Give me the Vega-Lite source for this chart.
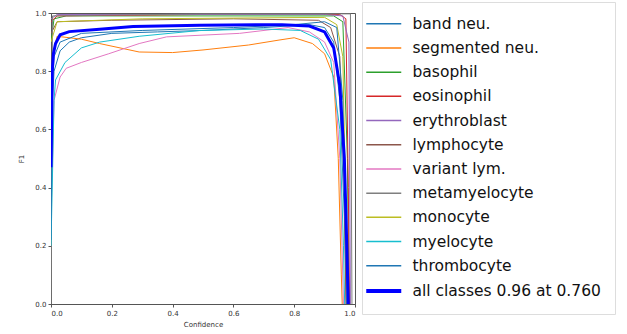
{
  "$schema": "https://vega.github.io/schema/vega-lite/v6.json",
  "autosize": "none",
  "width": 304,
  "height": 291,
  "padding": {"left": 51, "top": 13, "right": 272, "bottom": 30},
  "background": "white",
  "config": {
    "font": "DejaVu Sans",
    "view": {"stroke": "#555555", "strokeWidth": 1},
    "axis": {"grid": false, "domainColor": "#555555", "tickColor": "#555555", "labelColor": "#333333", "titleColor": "#333333", "labelFontSize": 7, "titleFontSize": 7, "titleFontWeight": "normal", "tickSize": 3, "labelPadding": 2}
  },
  "data": {"values": [
    {"s":"band neu.","c":0,"f":0.3},{"s":"band neu.","c":0.005,"f":0.7},{"s":"band neu.","c":0.01,"f":0.8},{"s":"band neu.","c":0.03,"f":0.87},{"s":"band neu.","c":0.06,"f":0.9},{"s":"band neu.","c":0.1,"f":0.915},{"s":"band neu.","c":0.2,"f":0.93},{"s":"band neu.","c":0.35,"f":0.935},{"s":"band neu.","c":0.5,"f":0.94},{"s":"band neu.","c":0.7,"f":0.95},{"s":"band neu.","c":0.85,"f":0.96},{"s":"band neu.","c":0.9,"f":0.95},{"s":"band neu.","c":0.93,"f":0.9},{"s":"band neu.","c":0.95,"f":0.7},{"s":"band neu.","c":0.965,"f":0.3},{"s":"band neu.","c":0.972,"f":0},
    {"s":"segmented neu.","c":0,"f":0.4},{"s":"segmented neu.","c":0.005,"f":0.85},{"s":"segmented neu.","c":0.02,"f":0.92},{"s":"segmented neu.","c":0.1,"f":0.91},{"s":"segmented neu.","c":0.16,"f":0.895},{"s":"segmented neu.","c":0.29,"f":0.866},{"s":"segmented neu.","c":0.4,"f":0.864},{"s":"segmented neu.","c":0.5,"f":0.873},{"s":"segmented neu.","c":0.65,"f":0.89},{"s":"segmented neu.","c":0.75,"f":0.907},{"s":"segmented neu.","c":0.8,"f":0.915},{"s":"segmented neu.","c":0.86,"f":0.895},{"s":"segmented neu.","c":0.9,"f":0.86},{"s":"segmented neu.","c":0.93,"f":0.78},{"s":"segmented neu.","c":0.945,"f":0.5},{"s":"segmented neu.","c":0.955,"f":0.1},{"s":"segmented neu.","c":0.958,"f":0},
    {"s":"basophil","c":0,"f":0.9},{"s":"basophil","c":0.01,"f":0.98},{"s":"basophil","c":0.05,"f":0.99},{"s":"basophil","c":0.5,"f":0.99},{"s":"basophil","c":0.93,"f":0.99},{"s":"basophil","c":0.96,"f":0.97},{"s":"basophil","c":0.975,"f":0.5},{"s":"basophil","c":0.98,"f":0},
    {"s":"eosinophil","c":0,"f":0.97},{"s":"eosinophil","c":0.02,"f":0.99},{"s":"eosinophil","c":0.5,"f":0.995},{"s":"eosinophil","c":0.95,"f":0.995},{"s":"eosinophil","c":0.97,"f":0.98},{"s":"eosinophil","c":0.978,"f":0.4},{"s":"eosinophil","c":0.982,"f":0},
    {"s":"erythroblast","c":0,"f":0.98},{"s":"erythroblast","c":0.02,"f":0.995},{"s":"erythroblast","c":0.9,"f":0.995},{"s":"erythroblast","c":0.96,"f":0.99},{"s":"erythroblast","c":0.98,"f":0.9},{"s":"erythroblast","c":0.985,"f":0},
    {"s":"lymphocyte","c":0,"f":0.93},{"s":"lymphocyte","c":0.02,"f":0.97},{"s":"lymphocyte","c":0.2,"f":0.975},{"s":"lymphocyte","c":0.6,"f":0.98},{"s":"lymphocyte","c":0.88,"f":0.975},{"s":"lymphocyte","c":0.92,"f":0.95},{"s":"lymphocyte","c":0.95,"f":0.85},{"s":"lymphocyte","c":0.965,"f":0.4},{"s":"lymphocyte","c":0.97,"f":0},
    {"s":"variant lym.","c":0,"f":0.3},{"s":"variant lym.","c":0.01,"f":0.7},{"s":"variant lym.","c":0.03,"f":0.78},{"s":"variant lym.","c":0.05,"f":0.81},{"s":"variant lym.","c":0.1,"f":0.83},{"s":"variant lym.","c":0.19,"f":0.86},{"s":"variant lym.","c":0.29,"f":0.895},{"s":"variant lym.","c":0.38,"f":0.918},{"s":"variant lym.","c":0.5,"f":0.924},{"s":"variant lym.","c":0.62,"f":0.93},{"s":"variant lym.","c":0.78,"f":0.95},{"s":"variant lym.","c":0.85,"f":0.935},{"s":"variant lym.","c":0.9,"f":0.9},{"s":"variant lym.","c":0.93,"f":0.83},{"s":"variant lym.","c":0.95,"f":0.5},{"s":"variant lym.","c":0.962,"f":0},
    {"s":"metamyelocyte","c":0,"f":0},{"s":"metamyelocyte","c":0.005,"f":0.99},{"s":"metamyelocyte","c":0.5,"f":0.997},{"s":"metamyelocyte","c":0.985,"f":0.997},{"s":"metamyelocyte","c":0.99,"f":0},
    {"s":"monocyte","c":0,"f":0.9},{"s":"monocyte","c":0.02,"f":0.97},{"s":"monocyte","c":0.3,"f":0.98},{"s":"monocyte","c":0.9,"f":0.985},{"s":"monocyte","c":0.94,"f":0.96},{"s":"monocyte","c":0.96,"f":0.85},{"s":"monocyte","c":0.97,"f":0.3},{"s":"monocyte","c":0.975,"f":0},
    {"s":"myelocyte","c":0,"f":0.2},{"s":"myelocyte","c":0.01,"f":0.7},{"s":"myelocyte","c":0.015,"f":0.77},{"s":"myelocyte","c":0.046,"f":0.83},{"s":"myelocyte","c":0.1,"f":0.88},{"s":"myelocyte","c":0.16,"f":0.9},{"s":"myelocyte","c":0.29,"f":0.92},{"s":"myelocyte","c":0.49,"f":0.94},{"s":"myelocyte","c":0.7,"f":0.945},{"s":"myelocyte","c":0.82,"f":0.94},{"s":"myelocyte","c":0.88,"f":0.91},{"s":"myelocyte","c":0.92,"f":0.84},{"s":"myelocyte","c":0.95,"f":0.6},{"s":"myelocyte","c":0.962,"f":0.2},{"s":"myelocyte","c":0.966,"f":0},
    {"s":"thrombocyte","c":0,"f":0.22},{"s":"thrombocyte","c":0.005,"f":0.75},{"s":"thrombocyte","c":0.01,"f":0.85},{"s":"thrombocyte","c":0.03,"f":0.9},{"s":"thrombocyte","c":0.1,"f":0.93},{"s":"thrombocyte","c":0.3,"f":0.94},{"s":"thrombocyte","c":0.6,"f":0.95},{"s":"thrombocyte","c":0.8,"f":0.96},{"s":"thrombocyte","c":0.9,"f":0.97},{"s":"thrombocyte","c":0.94,"f":0.95},{"s":"thrombocyte","c":0.96,"f":0.7},{"s":"thrombocyte","c":0.97,"f":0.2},{"s":"thrombocyte","c":0.974,"f":0},
    {"s":"all classes 0.96 at 0.760","c":0,"f":0.47},{"s":"all classes 0.96 at 0.760","c":0.004,"f":0.8},{"s":"all classes 0.96 at 0.760","c":0.008,"f":0.86},{"s":"all classes 0.96 at 0.760","c":0.015,"f":0.895},{"s":"all classes 0.96 at 0.760","c":0.03,"f":0.925},{"s":"all classes 0.96 at 0.760","c":0.06,"f":0.936},{"s":"all classes 0.96 at 0.760","c":0.16,"f":0.944},{"s":"all classes 0.96 at 0.760","c":0.27,"f":0.954},{"s":"all classes 0.96 at 0.760","c":0.49,"f":0.958},{"s":"all classes 0.96 at 0.760","c":0.76,"f":0.96},{"s":"all classes 0.96 at 0.760","c":0.85,"f":0.955},{"s":"all classes 0.96 at 0.760","c":0.9,"f":0.935},{"s":"all classes 0.96 at 0.760","c":0.93,"f":0.88},{"s":"all classes 0.96 at 0.760","c":0.95,"f":0.75},{"s":"all classes 0.96 at 0.760","c":0.965,"f":0.5},{"s":"all classes 0.96 at 0.760","c":0.973,"f":0.2},{"s":"all classes 0.96 at 0.760","c":0.978,"f":0}
  ]},
  "mark": {"type": "line", "clip": true},
  "encoding": {
    "x": {"field": "c", "type": "quantitative", "title": "Confidence", "scale": {"domain": [0, 1], "nice": false}, "axis": {"values": [0, 0.2, 0.4, 0.6, 0.8, 1.0], "format": ".1f", "titlePadding": 4}},
    "y": {"field": "f", "type": "quantitative", "title": "F1", "scale": {"domain": [0, 1], "nice": false}, "axis": {"values": [0, 0.2, 0.4, 0.6, 0.8, 1.0], "format": ".1f", "titlePadding": 10}},
    "color": {"field": "s", "type": "nominal", "sort": null, "title": null,
      "scale": {"domain": ["band neu.","segmented neu.","basophil","eosinophil","erythroblast","lymphocyte","variant lym.","metamyelocyte","monocyte","myelocyte","thrombocyte","all classes 0.96 at 0.760"],
                "range": ["#1f77b4","#ff7f0e","#2ca02c","#d62728","#9467bd","#8c564b","#e377c2","#7f7f7f","#bcbd22","#17becf","#1f77b4","#0000ff"]},
      "legend": {"orient": "none", "legendX": 311, "legendY": -11, "symbolType": "stroke", "symbolSize": 1225,
        "symbolStrokeWidth": {"expr": "datum.value === 'all classes 0.96 at 0.760' ? 4 : 1.5"},
        "labelFontSize": 15.5, "labelColor": "#111111", "rowPadding": 7.2, "labelOffset": 21, "strokeColor": "#dddddd", "padding": 14, "labelLimit": 300}},
    "strokeWidth": {"condition": {"test": "datum.s === 'all classes 0.96 at 0.760'", "value": 3}, "value": 1}
  }
}
